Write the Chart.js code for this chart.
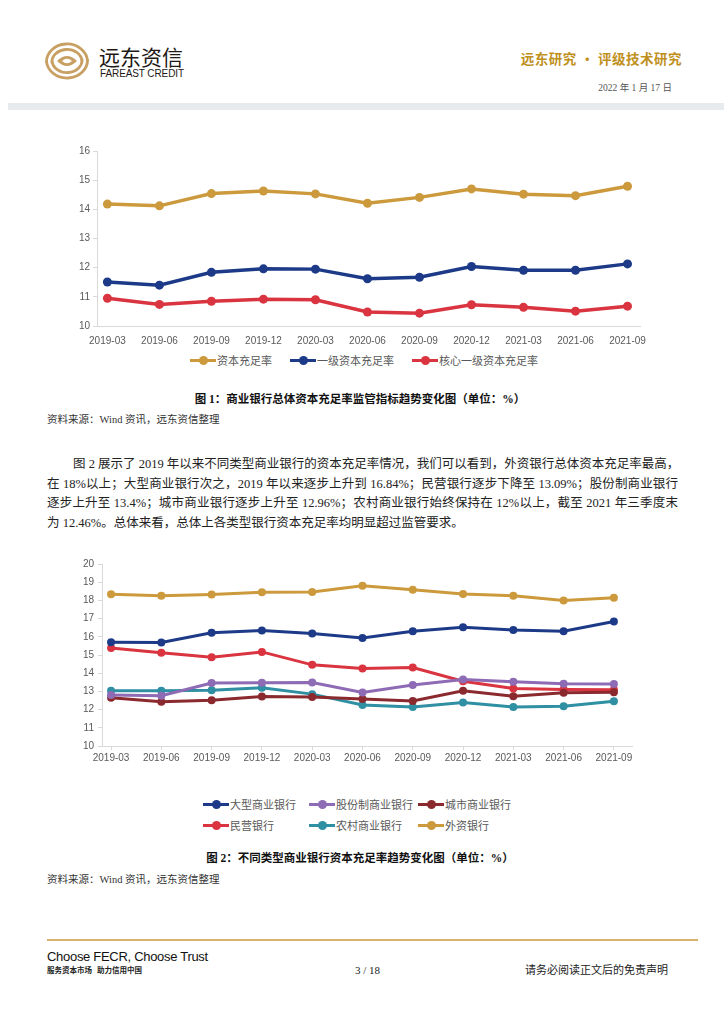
<!DOCTYPE html>
<html>
<head>
<meta charset="utf-8">
<script src="https://cdn.jsdelivr.net/npm/chart.js@4.4.0/dist/chart.umd.min.js"></script>
<style>
  html,body{margin:0;padding:0;background:#fff;}
  body{width:724px;height:1024px;position:relative;overflow:hidden;font-family:"Liberation Serif","Noto Sans CJK SC",serif;color:#222;}
  .abs{position:absolute;white-space:nowrap;}
  .para{position:absolute;left:47px;width:631px;font-size:12.5px;line-height:19.5px;color:#222;}
  .para div{text-align:justify;text-align-last:justify;white-space:nowrap;}
  .para div.last{text-align-last:left;}
  .cap{position:absolute;left:0;width:720px;text-align:center;font-weight:bold;font-size:11.5px;line-height:14px;color:#111;}
  .src{position:absolute;left:47px;font-size:10.5px;line-height:12px;color:#333;}
  .legend{position:absolute;font-family:"Noto Sans CJK SC","Liberation Sans",sans-serif;font-size:11px;color:#595959;}
  .li{display:flex;align-items:center;height:16px;}
  .mk{position:relative;width:26px;height:3px;margin-right:1px;}
  .mk i{position:absolute;left:9px;top:-3px;width:9px;height:9px;border-radius:50%;}
  canvas{position:absolute;}
</style>
</head>
<body>

<!-- header -->
<svg class="abs" style="left:45px;top:42px;" width="44" height="38" viewBox="0 0 44 38">
  <g fill="none" stroke="#C9A063" stroke-width="2.8" stroke-linecap="butt">
    <path d="M1.5 21 A20.5 18 0 0 1 42.5 19"/>
    <path d="M42.5 17 A20.5 18 0 0 1 1.5 19"/>
    <path d="M7 21 A15 12.5 0 0 1 37 19"/>
    <path d="M37 17 A15 12.5 0 0 1 7 19"/>
  </g>
  <path d="M12 19 Q22 9 32 19 Q22 29 12 19 Z" fill="#C9A063"/>
  <path d="M17 19 Q22 14.5 27 19 Q22 23.5 17 19 Z" fill="#fff"/>
</svg>
<div class="abs" style="left:99px;top:44px;font-family:'Noto Sans CJK SC',sans-serif;font-size:21px;line-height:24px;color:#231815;">远东资信</div>
<div class="abs" style="left:100px;top:68px;font-family:'Liberation Sans',sans-serif;font-size:10px;line-height:12px;color:#231815;letter-spacing:-0.1px;">FAREAST CREDIT</div>

<div class="abs" style="right:42px;top:50px;font-size:13.5px;line-height:16px;font-weight:bold;color:#C0901C;font-family:'Noto Sans CJK SC',serif;letter-spacing:0.5px;">远东研究 • 评级技术研究</div>
<div class="abs" style="right:52px;top:82px;font-size:9.5px;line-height:12px;color:#555;">2022 年 1 月 17 日</div>
<div class="abs" style="left:8px;top:103px;width:716px;height:7px;background:#E8EBED;"></div>

<!-- chart 1 -->
<canvas id="c1" width="600" height="205" style="left:60px;top:140px;"></canvas>
<div class="legend" id="lg1" style="left:190px;top:352px;display:flex;gap:18px;"></div>
<div class="cap" style="top:392px;">图 1：商业银行总体资本充足率监管指标趋势变化图（单位：%）</div>
<div class="src" style="top:414px;">资料来源：Wind 资讯，远东资信整理</div>

<div class="para" style="top:455px;">
  <div style="text-indent:26px;">图 2 展示了 2019 年以来不同类型商业银行的资本充足率情况，我们可以看到，外资银行总体资本充足率最高，</div>
  <div>在 18%以上；大型商业银行次之，2019 年以来逐步上升到 16.84%；民营银行逐步下降至 13.09%；股份制商业银行</div>
  <div>逐步上升至 13.4%；城市商业银行逐步上升至 12.96%；农村商业银行始终保持在 12%以上，截至 2021 年三季度末</div>
  <div class="last">为 12.46%。总体来看，总体上各类型银行资本充足率均明显超过监管要求。</div>
</div>

<!-- chart 2 -->
<canvas id="c2" width="600" height="215" style="left:60px;top:550px;"></canvas>
<div class="legend" id="lg2" style="left:203px;top:796px;display:grid;grid-template-columns:106px 109px 100px;row-gap:5px;"></div>
<div class="cap" style="top:851px;">图 2：不同类型商业银行资本充足率趋势变化图（单位：%）</div>
<div class="src" style="top:874px;">资料来源：Wind 资讯，远东资信整理</div>

<!-- footer -->
<div class="abs" style="left:47px;top:939px;width:651px;height:2px;background:#D6B26C;"></div>
<div class="abs" style="left:47px;top:949px;font-family:'Liberation Sans',sans-serif;font-size:13px;line-height:15px;color:#111;letter-spacing:-0.3px;">Choose FECR<b style="font-weight:normal;">, </b>Choose Trust</div>
<div class="abs" style="left:47px;top:965px;font-family:'Noto Sans CJK SC',sans-serif;font-weight:bold;font-size:7.5px;line-height:10px;color:#222;">服务资本市场 &nbsp; 助力信用中国</div>
<div class="abs" style="left:355px;top:964px;font-size:11px;line-height:12px;color:#222;">3 / 18</div>
<div class="abs" style="left:525px;top:964px;font-size:11px;line-height:12px;color:#222;">请务必阅读正文后的免责声明</div>

<script>
// ---------- data ----------
const quarters = ['2019-03','2019-06','2019-09','2019-12','2020-03','2020-06','2020-09','2020-12','2021-03','2021-06','2021-09'];

// chart 1
const capitalRatio   = [14.18, 14.12, 14.54, 14.63, 14.53, 14.21, 14.41, 14.70, 14.52, 14.47, 14.79];
const tier1Ratio     = [11.51, 11.40, 11.84, 11.96, 11.95, 11.62, 11.67, 12.04, 11.91, 11.91, 12.13];
const coreTier1Ratio = [10.95, 10.74, 10.85, 10.92, 10.90, 10.48, 10.44, 10.73, 10.64, 10.51, 10.68];
const chart1Names = ['资本充足率','一级资本充足率','核心一级资本充足率'];
const yTicks1 = [10, 11, 12, 13, 14, 15, 16];

// chart 2
const largeBanks   = [15.70, 15.69, 16.22, 16.34, 16.18, 15.94, 16.31, 16.53, 16.38, 16.31, 16.84];
const jointStock   = [12.80, 12.76, 13.46, 13.47, 13.49, 12.94, 13.35, 13.66, 13.53, 13.42, 13.40];
const cityBanks    = [12.65, 12.43, 12.52, 12.72, 12.69, 12.58, 12.47, 13.03, 12.74, 12.92, 12.96];
const privateBanks = [15.39, 15.12, 14.88, 15.17, 14.46, 14.26, 14.31, 13.56, 13.16, 13.11, 13.09];
const ruralBanks   = [13.03, 13.03, 13.07, 13.20, 12.85, 12.25, 12.14, 12.39, 12.14, 12.18, 12.46];
const foreignBanks = [18.34, 18.25, 18.32, 18.45, 18.46, 18.81, 18.59, 18.35, 18.26, 17.99, 18.15];
const chart2Names = ['大型商业银行','股份制商业银行','城市商业银行','民营银行','农村商业银行','外资银行'];
const yTicks2 = [10, 11, 12, 13, 14, 15, 16, 17, 18, 19, 20];

// ---------- styles ----------
const GOLD='#CC9A3C', NAVY='#1C3A87', RED='#D9343F', PURPLE='#8E6BB5', MAROON='#8B2A2E', TEAL='#2F8FA3';

function pts(arr){ return arr.map((v,i)=>({x:i,y:v})); }
function ds(label, arr, color, w, r){
  return {label, data:pts(arr), borderColor:color, backgroundColor:color,
    pointBackgroundColor:color, pointBorderColor:color, borderWidth:w,
    pointRadius:r, pointBorderWidth:0, tension:0};
}
const tickFont = {family:'Liberation Sans', size:10};
function xScale(min,max,h,withTicks,pad){
  return {type:'linear', min, max,
    afterFit(s){ s.height=h; },
    ticks:{stepSize:1, includeBounds:false, autoSkip:false, maxRotation:0, minRotation:0, padding:pad,
      color:'#595959', font:tickFont,
      callback:(v)=> Number.isInteger(v) && quarters[v]!==undefined ? quarters[v] : ''},
    grid:{display:withTicks, drawOnChartArea:false, drawTicks:true, tickLength:4, color:'#D9D9D9'},
    border:{display:true, color:'#D9D9D9', width:1}};
}
function yScale(ticksArr,w,pad){
  return {type:'linear', min:ticksArr[0], max:ticksArr[ticksArr.length-1],
    afterFit(s){ s.width=w; },
    afterBuildTicks(s){ s.ticks = ticksArr.map(v=>({value:v})); },
    ticks:{padding:pad, color:'#595959', font:tickFont},
    grid:{display:true, drawOnChartArea:false, drawTicks:true, tickLength:4, color:'#D9D9D9'},
    border:{display:true, color:'#D9D9D9', width:1}};
}
const common = {responsive:false, animation:false, devicePixelRatio:1,
  plugins:{legend:{display:false}, tooltip:{enabled:false}}, events:[]};

const c1 = new Chart(document.getElementById('c1'), {
  type:'line',
  data:{datasets:[
    ds(chart1Names[0], capitalRatio, GOLD, 3.5, 4.5),
    ds(chart1Names[1], tier1Ratio, NAVY, 3.5, 4.5),
    ds(chart1Names[2], coreTier1Ratio, RED, 3.5, 4.5)
  ]},
  options:Object.assign({}, common, {
    layout:{padding:{left:0,right:20,top:11,bottom:0}},
    scales:{x:xScale(-0.2, 10.24, 19, false, 5), y:yScale(yTicks1, 37, 3)}
  })
});

const c2 = new Chart(document.getElementById('c2'), {
  type:'line',
  data:{datasets:[
    ds(chart2Names[0], largeBanks, NAVY, 3, 4),
    ds(chart2Names[1], jointStock, PURPLE, 3, 4),
    ds(chart2Names[2], cityBanks, MAROON, 3, 4),
    ds(chart2Names[3], privateBanks, RED, 3, 4),
    ds(chart2Names[4], ruralBanks, TEAL, 3, 4),
    ds(chart2Names[5], foreignBanks, GOLD, 3, 4)
  ]},
  options:Object.assign({}, common, {
    layout:{padding:{left:0,right:28,top:14,bottom:0}},
    scales:{x:xScale(-0.18, 10.36, 19, true, 2), y:yScale(yTicks2, 42, 4)}
  })
});

function buildLegend(chart, id){
  const box = document.getElementById(id);
  chart.data.datasets.forEach(d=>{
    const item = document.createElement('div'); item.className='li';
    const mk = document.createElement('div'); mk.className='mk'; mk.style.background=d.borderColor;
    const dot = document.createElement('i'); dot.style.background=d.borderColor; mk.appendChild(dot);
    const t = document.createElement('span'); t.textContent=d.label;
    item.appendChild(mk); item.appendChild(t); box.appendChild(item);
  });
}
buildLegend(c1,'lg1');
buildLegend(c2,'lg2');
</script>
</body>
</html>
